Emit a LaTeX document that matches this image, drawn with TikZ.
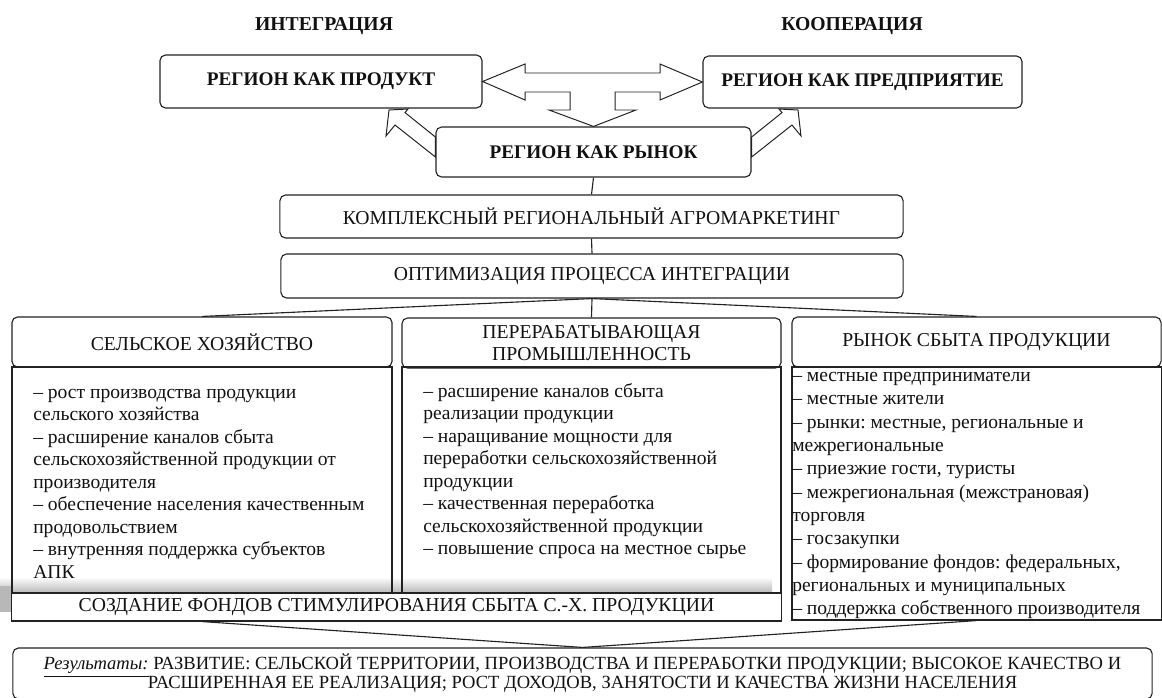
\documentclass[tikz,border=0pt]{standalone}
\usepackage{fontspec}
\setmainfont{Liberation Serif}
\usetikzlibrary{calc}
\definecolor{boxstroke}{HTML}{222222}
\definecolor{heading}{HTML}{111111}
\definecolor{shadowgray}{HTML}{B8B8B8}

\begin{document}
\frenchspacing
\begin{tikzpicture}[
    x=0.025cm, y=-0.025cm,
    box/.style={
        rectangle,
        rounded corners=4pt,
        draw=boxstroke,
        line width=0.8pt,
        fill=white,
        align=center,
        text=heading,
        inner sep=0pt,
    },
    plainbox/.style={
        rectangle,
        draw=boxstroke,
        line width=0.8pt,
        align=center,
        text=heading,
        inner sep=0pt,
    },
    listtext/.style={
        align=left,
        inner sep=0pt,
        text=heading,
        anchor=north west,
    },
    link/.style={
        boxstroke,
        line width=0.8pt,
    },
    blockarrow/.style={
        draw=boxstroke,
        line width=0.7pt,
        fill=white,
    },
]

\useasboundingbox (0,0) rectangle (1162,697);

% Top labels
\node[text=heading, font=\fontsize{14}{16}\selectfont\bfseries] (integr) at (324,26) {ИНТЕГРАЦИЯ};
\node[text=heading, font=\fontsize{14}{16}\selectfont\bfseries] (koop) at (852,26) {КООПЕРАЦИЯ};

% Region boxes
\node[box, minimum width=8.05cm, minimum height=1.325cm, font=\fontsize{13.7}{15}\selectfont\bfseries] (prod) at (321,81.5) {РЕГИОН КАК ПРОДУКТ};
\node[box, minimum width=7.975cm, minimum height=1.3cm, font=\fontsize{13.7}{15}\selectfont\bfseries] (pred) at (862.5,82) {РЕГИОН КАК ПРЕДПРИЯТИЕ};
\node[box, minimum width=7.875cm, minimum height=1.25cm, font=\fontsize{13.7}{15}\selectfont\bfseries] (rynok) at (593.5,152) {РЕГИОН КАК РЫНОК};

% Block arrows between regions
\draw[blockarrow] (prod.east) -- (525,64) -- (525,73) -- (660,73) -- (660,64) -- (pred.west)
    -- (660,100) -- (660,92) -- (615,92) -- (615,110) -- (636,110) -- (rynok.north)
    -- (549,110) -- (570,110) -- (570,92) -- (525,92) -- (525,100) -- cycle;
\draw[blockarrow] (389,110) -- (408,109) -- (405,112.6) -- (rynok.west |- 0,137) -- (rynok.west |- 0,157)
    -- (395,125) -- (386,136) -- cycle;
\draw[blockarrow] (798,110) -- (779,109) -- (782,112.6) -- (rynok.east |- 0,137) -- (rynok.east |- 0,157)
    -- (792,125) -- (801,136) -- cycle;

% Marketing boxes
\node[box, minimum width=15.575cm, minimum height=1.075cm, font=\fontsize{14}{16}\selectfont] (kompl) at (591.5,216.5) {КОМПЛЕКСНЫЙ РЕГИОНАЛЬНЫЙ АГРОМАРКЕТИНГ};
\node[box, minimum width=15.55cm, minimum height=1.1cm, font=\fontsize{14}{16}\selectfont] (optim) at (592,276) {ОПТИМИЗАЦИЯ ПРОЦЕССА ИНТЕГРАЦИИ};

\draw[link] (rynok.south) -- (kompl.north);
\draw[link] (kompl.south) -- (optim.north);

% Shadow behind the fund box
\shade[top color=white, bottom color=shadowgray] (0,577) rectangle (772,593);
\fill[shadowgray] (0,586) rectangle (12,612);

% Column headers
\node[box, minimum width=9.5cm, minimum height=1.25cm, font=\fontsize{14}{16}\selectfont] (head1) at (202,342) {СЕЛЬСКОЕ ХОЗЯЙСТВО};
\node[box, minimum width=9.475cm, minimum height=1.25cm, font=\fontsize{14}{15.6}\selectfont] (head2) at (591.5,343) {ПЕРЕРАБАТЫВАЮЩАЯ\\ПРОМЫШЛЕННОСТЬ};
\node[box, minimum width=9.225cm, minimum height=1.25cm, font=\fontsize{14}{16}\selectfont] (head3) at (976.5,342) {РЫНОК СБЫТА ПРОДУКЦИИ};

\draw[link] (optim.south) -- (head1.north);
\draw[link] (optim.south) -- (head2.north);
\draw[link] (optim.south) -- (head3.north);

% Column contents
\node[plainbox, minimum width=9.5cm, minimum height=5.65cm] (cont1) at (202,480) {};
\node[plainbox, minimum width=9.475cm, minimum height=5.65cm] (cont2) at (591.5,480) {};
\node[plainbox, minimum width=9.225cm, minimum height=6.325cm, fill=white] (cont3) at (976.5,493.5) {};

\node[listtext, font=\fontsize{13.9}{16}\selectfont] (list1) at (33,389) {
    – рост производства продукции\\
    сельского хозяйства\\
    – расширение каналов сбыта\\
    сельскохозяйственной продукции от\\
    производителя\\
    – обеспечение населения качественным\\
    продовольствием\\
    – внутренняя поддержка субъектов\\
    АПК
};
\node[listtext, font=\fontsize{13.9}{16}\selectfont] (list2) at (423,383) {
    – расширение каналов сбыта\\
    реализации продукции\\
    – наращивание мощности для\\
    переработки сельскохозяйственной\\
    продукции\\
    – качественная переработка\\
    сельскохозяйственной продукции\\
    – повышение спроса на местное сырье
};
\node[listtext, font=\fontsize{13.9}{16.6}\selectfont] (list3) at (792,372) {
    – местные предприниматели\\
    – местные жители\\
    – рынки: местные, региональные и\\
    межрегиональные\\
    – приезжие гости, туристы\\
    – межрегиональная (межстрановая)\\
    торговля\\
    – госзакупки\\
    – формирование фондов: федеральных,\\
    региональных и муниципальных\\
    – поддержка собственного производителя
};

% Fund box
\node[plainbox, fill=white, minimum width=19.225cm, minimum height=0.7cm, font=\fontsize{14}{16}\selectfont] (fund) at (396.5,607) {СОЗДАНИЕ ФОНДОВ СТИМУЛИРОВАНИЯ СБЫТА С.-Х. ПРОДУКЦИИ};

% Results
\node[box, minimum width=28.475cm, minimum height=1.275cm, font=\fontsize{13.2}{13.6}\selectfont] (results) at (582.5,673.5) {
    \underline{\textit{Результаты:}} РАЗВИТИЕ: СЕЛЬСКОЙ ТЕРРИТОРИИ, ПРОИЗВОДСТВА И ПЕРЕРАБОТКИ ПРОДУКЦИИ; ВЫСОКОЕ КАЧЕСТВО И\\
    РАСШИРЕННАЯ ЕЕ РЕАЛИЗАЦИЯ; РОСТ ДОХОДОВ, ЗАНЯТОСТИ И КАЧЕСТВА ЖИЗНИ НАСЕЛЕНИЯ
};

\draw[link] (head1 |- fund.south) -- (results.north);
\draw[link] (cont3.south) -- (results.north);

\end{tikzpicture}
\end{document}
